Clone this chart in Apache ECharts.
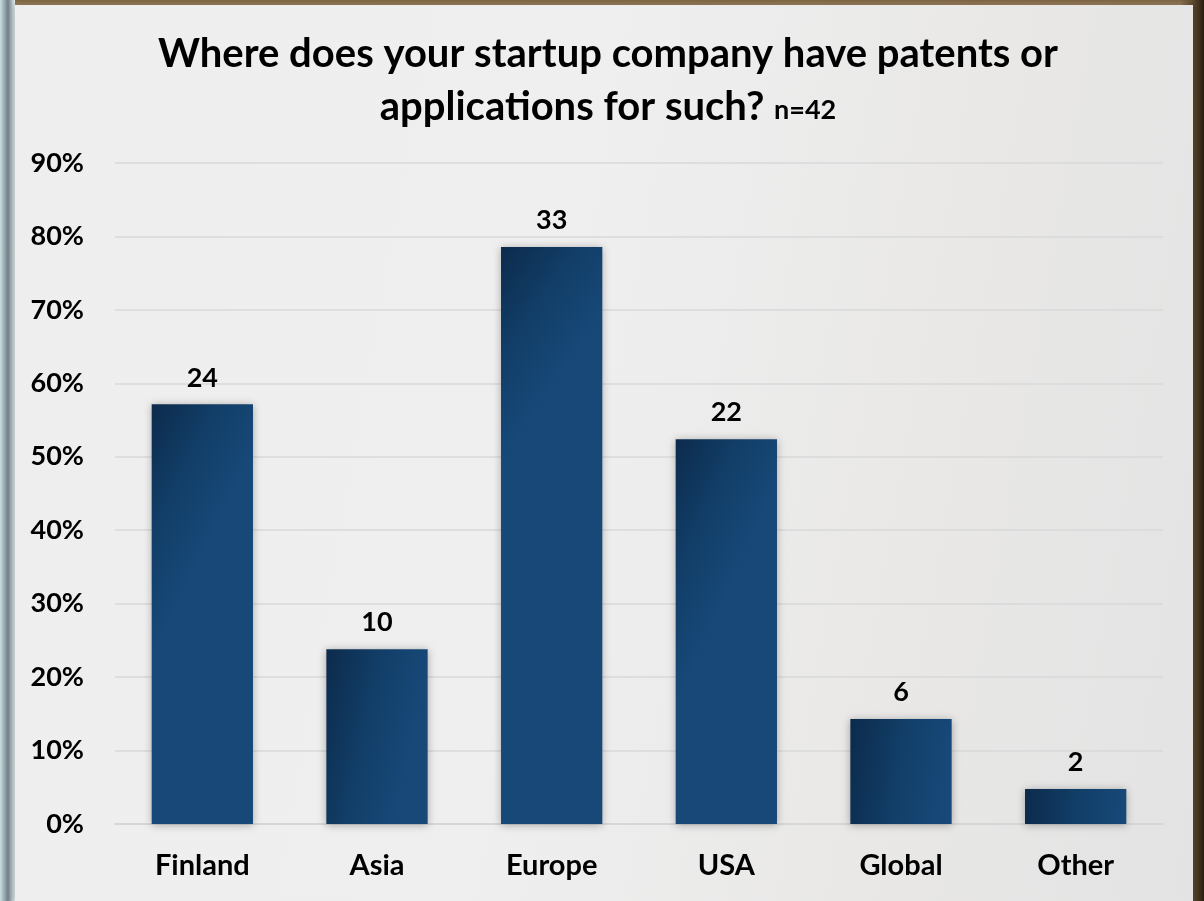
<!DOCTYPE html>
<html>
<head>
<meta charset="utf-8">
<script src="https://cdn.jsdelivr.net/npm/echarts@6/dist/echarts.min.js"></script>
<style>
  html, body { margin: 0; padding: 0; width: 1204px; height: 901px; overflow: hidden; }
  body {
    background:
      linear-gradient(90deg, #c9dfe0 0px, #6f7f86 8px, #e4eeee 15px, transparent 15px),
      linear-gradient(90deg, transparent 1180px, #6b5637 1190px, #2a1d10 1204px),
      linear-gradient(180deg, #7d6444 0px, #a48a64 6px, #dcd6cc 12px);
  }
  #panel {
    position: absolute; left: 15px; top: 5px; width: 1178px; height: 896px;
    background: linear-gradient(100deg, #eeeeee 0%, #efefef 45%, #e9e8e7 75%, #e3e3e3 100%);
    box-shadow: 0 0 6px rgba(0,0,0,0.25);
  }
  #chart { position: absolute; left: 0; top: 0; width: 1204px; height: 901px; }
</style>
</head>
<body>
<div id="panel"></div>
<div id="chart"></div>
<script>
// Survey answers: number of startups per patent region (n = 42)
const categories = ['Finland', 'Asia', 'Europe', 'USA', 'Global', 'Other'];
const counts = [24, 10, 33, 22, 6, 2];
const respondents = 42;
const yTicks = { min: 0, max: 90, interval: 10 };

const shares = counts.map(c => c / respondents * 100);

const font = 'Lato, "Open Sans", sans-serif';
const chart = echarts.init(document.getElementById('chart'), null, { renderer: 'canvas' });

chart.setOption({
  backgroundColor: 'transparent',
  animation: false,
  title: {
    text: 'Where does your startup company have patents or\napplications for such? {n|n=42}',
    left: 603,
    top: 23,
    textAlign: 'center',
    textStyle: {
      fontFamily: font,
      fontSize: 40,
      fontWeight: 'bold',
      color: '#000',
      lineHeight: 53,
      rich: {
        n: { fontFamily: font, fontSize: 27, fontWeight: 'bold', color: '#000', lineHeight: 53, padding: [6, 0, 0, 0] }
      }
    }
  },
  grid: { left: 115, right: 41, top: 163, bottom: 77, containLabel: false },
  xAxis: {
    type: 'category',
    data: categories,
    axisTick: { show: false },
    axisLine: { show: true, lineStyle: { color: '#d6d6d6', width: 2 } },
    axisLabel: {
      margin: 27,
      fontFamily: font,
      fontSize: 29,
      fontWeight: 'bold',
      color: '#000'
    }
  },
  yAxis: {
    type: 'value',
    min: yTicks.min,
    max: yTicks.max,
    interval: yTicks.interval,
    axisLine: { show: false },
    axisTick: { show: false },
    splitLine: { lineStyle: { color: '#d8d8d8', width: 1.5 } },
    axisLabel: {
      margin: 31,
      formatter: '{value}%',
      fontFamily: font,
      fontSize: 27,
      fontWeight: 'bold',
      color: '#000'
    }
  },
  series: [{
    type: 'bar',
    data: shares,
    barWidth: '58%',
    itemStyle: {
      color: new echarts.graphic.LinearGradient(0, 0, 1, 0.12, [
        { offset: 0, color: '#0c2b4c' },
        { offset: 0.55, color: '#123f69' },
        { offset: 1, color: '#174878' }
      ]),
      shadowColor: 'rgba(0,0,0,0.3)',
      shadowBlur: 8,
      shadowOffsetX: 0,
      shadowOffsetY: 1
    },
    label: {
      show: true,
      position: 'top',
      distance: 13,
      formatter: p => counts[p.dataIndex],
      fontFamily: font,
      fontSize: 27,
      fontWeight: 'bold',
      color: '#000'
    }
  }]
});
</script>
</body>
</html>
